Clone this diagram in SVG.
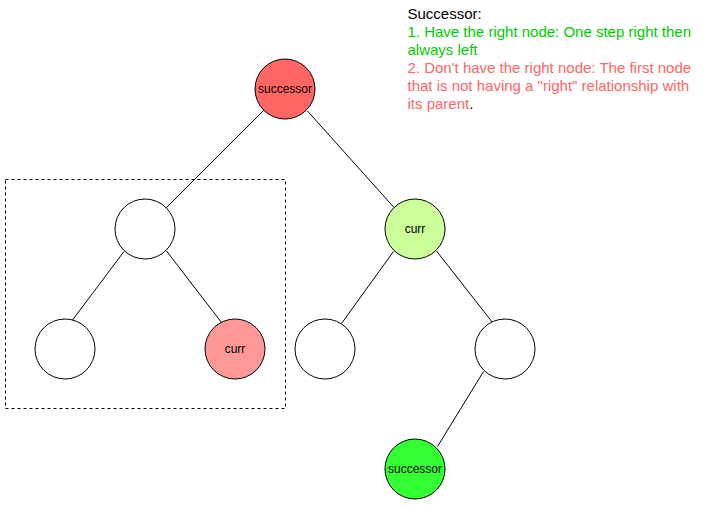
<svg xmlns="http://www.w3.org/2000/svg" width="711" height="505" viewBox="0 0 711 505">
<style>
.n{stroke:#000;stroke-width:1}
.lbl{font-family:"Liberation Sans",Arial,sans-serif;font-size:12px;fill:#000;text-anchor:middle;dominant-baseline:central}
.e{stroke:#000;stroke-width:1;fill:none}
.t{font-family:"Liberation Sans",Arial,sans-serif;font-size:15px}
</style>
<rect x="0" y="0" width="711" height="505" fill="#fff"/>
<rect id="box" x="5.5" y="179.5" width="280" height="229" fill="none" stroke="#000" stroke-dasharray="3 3"/>
<g id="connectors">
<line class="e" x1="264" y1="110" x2="166" y2="208"/>
<line class="e" x1="307.5" y1="111" x2="394" y2="207.5"/>
<line class="e" x1="124" y1="251.5" x2="72.5" y2="320"/>
<line class="e" x1="166.5" y1="251" x2="221.5" y2="322.5"/>
<line class="e" x1="393.5" y1="251.5" x2="341.5" y2="323.5"/>
<line class="e" x1="436.5" y1="251" x2="492.5" y2="322.5"/>
<line class="e" x1="483.5" y1="371.5" x2="437.5" y2="446.5"/>
</g>
<g id="root"><circle class="n" cx="285" cy="89" r="30" fill="#FF6666"/><text class="lbl" x="285" y="89">successor</text></g>
<g id="left"><circle class="n" cx="145" cy="229" r="30" fill="#fff"/></g>
<g id="curr1"><circle class="n" cx="415" cy="229" r="30" fill="#CCFF99"/><text class="lbl" x="415" y="229">curr</text></g>
<g id="leftleft"><circle class="n" cx="65" cy="349" r="30" fill="#fff"/></g>
<g id="curr2"><circle class="n" cx="235" cy="349" r="30" fill="#FF9999"/><text class="lbl" x="235" y="349">curr</text></g>
<g id="rightleft"><circle class="n" cx="325" cy="349" r="30" fill="#fff"/></g>
<g id="rightright"><circle class="n" cx="505" cy="349" r="30" fill="#fff"/></g>
<g id="succ2"><circle class="n" cx="415" cy="469" r="30" fill="#33FF33"/><text class="lbl" x="415" y="469">successor</text></g>
<g id="note" class="t">
<text x="407.5" y="19.3" fill="#000">Successor:</text>
<text x="407.5" y="37.3" fill="#00CC00">1. Have the right node: One step right then</text>
<text x="407.5" y="55.3" fill="#00CC00">always left</text>
<text x="407.5" y="73.3" fill="#FF6666">2. Don't have the right node: The first node</text>
<text x="407.5" y="91.3" fill="#FF6666">that is not having a "right" relationship with</text>
<text x="407.5" y="109.3" fill="#FF6666">its parent<tspan fill="#000">.</tspan></text>
</g>
</svg>
